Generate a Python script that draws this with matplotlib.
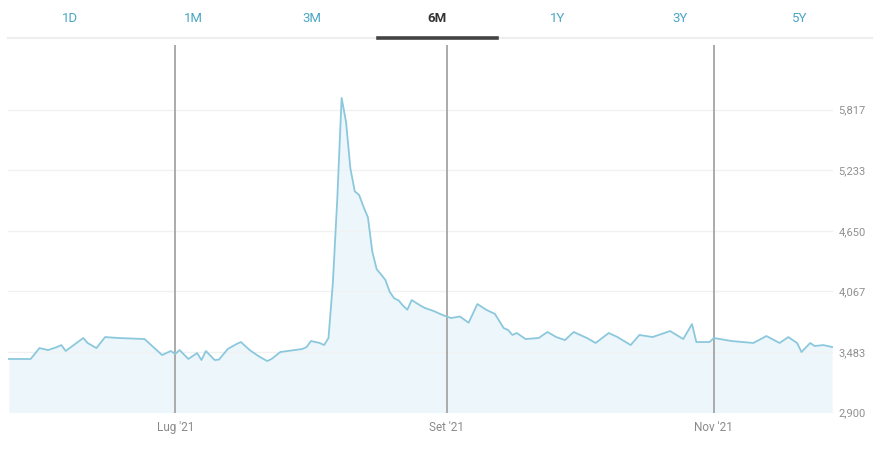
import matplotlib
matplotlib.use("Agg")
import matplotlib.pyplot as plt
import matplotlib.dates as mdates
from matplotlib.lines import Line2D
import pandas as pd
from datetime import datetime

# ---------------- data ----------------
DATES = [
    "2021-05-24", "2021-05-29", "2021-05-31", "2021-06-02", "2021-06-04", "2021-06-05",
    "2021-06-06", "2021-06-10", "2021-06-11", "2021-06-13", "2021-06-15", "2021-06-18",
    "2021-06-24", "2021-06-26", "2021-06-28", "2021-06-30", "2021-07-01", "2021-07-02",
    "2021-07-04", "2021-07-06", "2021-07-07", "2021-07-08", "2021-07-10", "2021-07-11",
    "2021-07-13", "2021-07-15", "2021-07-16", "2021-07-18", "2021-07-20", "2021-07-22",
    "2021-07-23", "2021-07-25", "2021-07-30", "2021-07-31", "2021-08-01", "2021-08-03",
    "2021-08-04", "2021-08-05", "2021-08-06", "2021-08-07", "2021-08-08", "2021-08-09",
    "2021-08-10", "2021-08-11", "2021-08-12", "2021-08-13", "2021-08-14", "2021-08-15",
    "2021-08-16", "2021-08-17", "2021-08-18", "2021-08-19", "2021-08-20", "2021-08-21",
    "2021-08-22", "2021-08-23", "2021-08-24", "2021-08-26", "2021-08-27", "2021-08-29",
    "2021-08-31", "2021-09-02", "2021-09-04", "2021-09-06", "2021-09-08", "2021-09-10",
    "2021-09-12", "2021-09-14", "2021-09-15", "2021-09-16", "2021-09-17", "2021-09-19",
    "2021-09-22", "2021-09-24", "2021-09-26", "2021-09-28", "2021-09-30", "2021-10-01",
    "2021-10-03", "2021-10-05", "2021-10-08", "2021-10-10", "2021-10-13", "2021-10-15",
    "2021-10-18", "2021-10-22", "2021-10-25", "2021-10-27", "2021-10-28", "2021-10-31",
    "2021-11-01", "2021-11-05", "2021-11-10", "2021-11-13", "2021-11-16", "2021-11-18",
    "2021-11-20", "2021-11-21", "2021-11-23", "2021-11-24", "2021-11-26", "2021-11-28",
]
VALUES = [
    3416, 3416, 3521, 3502, 3531, 3550,
    3493, 3618, 3570, 3521, 3627, 3618,
    3608, 3531, 3454, 3493, 3464, 3502,
    3416, 3473, 3406, 3493, 3406, 3410,
    3512, 3560, 3579, 3502, 3444, 3396,
    3416, 3483, 3512, 3531, 3589, 3570,
    3550, 3618, 4150, 4950, 5928, 5700,
    5250, 5030, 4994, 4880, 4780, 4450,
    4280, 4230, 4176, 4060, 4000, 3980,
    3930, 3890, 3983, 3930, 3907, 3878,
    3840, 3810, 3825, 3765, 3945, 3890,
    3850, 3714, 3695, 3647, 3666, 3608,
    3618, 3676, 3627, 3598, 3676, 3656,
    3618, 3570, 3666, 3627, 3550, 3647,
    3627, 3685, 3608, 3752, 3579, 3579,
    3618, 3589, 3570, 3637, 3570, 3627,
    3570, 3483, 3570, 3541, 3550, 3531,
]
Y_TICKS = [2900, 3483, 4067, 4650, 5233, 5817]
Y_TICK_LABELS = ["2,900", "3,483", "4,067", "4,650", "5,233", "5,817"]
X_TICK_DATES = ["2021-07-01", "2021-09-01", "2021-11-01"]
X_TICK_LABELS = ["Lug '21", "Set '21", "Nov '21"]
TABS = ["1D", "1M", "3M", "6M", "1Y", "3Y", "5Y"]
ACTIVE_TAB = "6M"

# ---------------- figure ----------------
W, H = 882, 476
fig = plt.figure(figsize=(W / 100, H / 100), dpi=100)
fig.patch.set_facecolor("white")

def fx(px):
    return px / W

def fy(py):
    return 1 - py / H

ax = fig.add_axes([fx(8), fy(412.6), fx(833) - fx(8), fy(45) - fy(412.6)])
ax.set_facecolor("white")

dates = pd.to_datetime(DATES)
line_color = "#8cc8dd"
fill_color = "#edf7fb"

ax.fill_between(dates, VALUES, Y_TICKS[0], color=fill_color, lw=0, zorder=1)
for yt in Y_TICKS[1:]:
    ax.axhline(yt, color="#f1f1f1", lw=1.0, zorder=1.5)
ax.plot(dates, VALUES, color=line_color, lw=1.3, zorder=3, solid_joinstyle="round")

for d in X_TICK_DATES:
    ax.axvline(pd.Timestamp(d), color="#a5a5a5", lw=1.3, zorder=2)

# axis limits (positional)
jul1 = mdates.date2num(datetime(2021, 7, 1))
ax.set_xlim(jul1 - 38.18, jul1 + 150.2)
ax.set_ylim(Y_TICKS[0], 6438)

for s in ax.spines.values():
    s.set_visible(False)

tick_font = ["Liberation Sans Narrow", "Roboto", "DejaVu Sans"]
ax.yaxis.tick_right()
ax.set_yticks(Y_TICKS)
ax.set_yticklabels(Y_TICK_LABELS, fontsize=8, color="#8f8f8f", family=tick_font)
ax.tick_params(axis="y", length=0, pad=4)
ax.set_xticks(pd.to_datetime(X_TICK_DATES))
ax.set_xticklabels(X_TICK_LABELS, fontsize=8.5, color="#8a8a8a", family=tick_font)
ax.tick_params(axis="x", length=0, pad=6)

# ---------------- tabs ----------------
tab_x = [70, 193, 312, 437, 558, 680, 800]
for t, x in zip(TABS, tab_x):
    active = t == ACTIVE_TAB
    fig.text(fx(x), fy(18), t, ha="center", va="center",
             fontsize=9.5, family=tick_font,
             fontweight="bold" if active else "normal",
             color="#333333" if active else "#4aa6c4")

fig.add_artist(Line2D([fx(8), fx(872)], [fy(38), fy(38)], color="#eeeeee", lw=1.5))
fig.add_artist(Line2D([fx(378), fx(497)], [fy(38), fy(38)], color="#444444", lw=2.6))

fig.savefig("out.png", dpi=100, facecolor="white")
